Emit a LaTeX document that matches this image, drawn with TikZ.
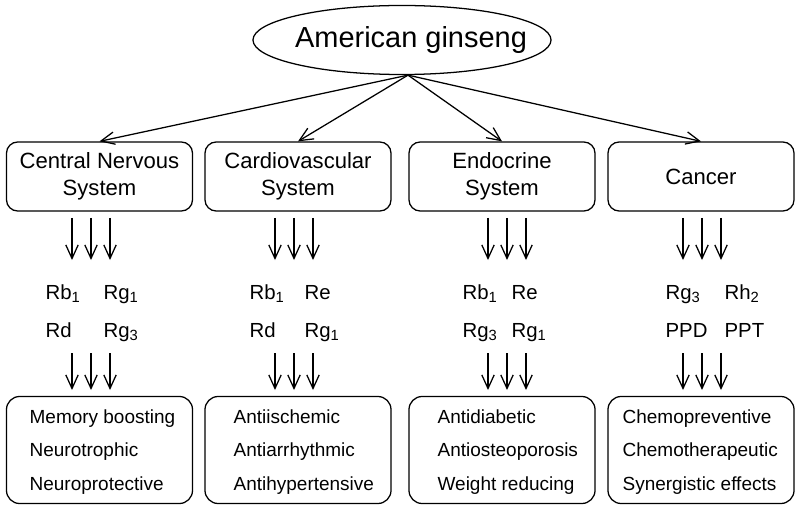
\documentclass[tikz,border=0pt]{standalone}
\usepackage{fontspec}
\setmainfont{Liberation Sans}
\usetikzlibrary{shapes.geometric}
\usetikzlibrary{arrows.meta,arrows}
\newcommand{\gsub}[1]{\raisebox{-0.35ex}{\fontsize{10.5}{10.5}\selectfont #1}}

\begin{document}
\begin{tikzpicture}[x=0.025cm, y=-0.025cm, line width=0.9pt, >={Straight Barb[length=3.4mm, width=3.1mm]},
        sys/.style={draw, rounded corners=0.28cm, minimum width=4.65cm, minimum height=1.725cm, align=center, font=\fontsize{15.7}{19.2}\selectfont},
        eff/.style={draw, rounded corners=0.33cm, minimum width=4.65cm, minimum height=2.675cm},
        efftxt/.style={anchor=west, inner sep=0pt, align=left, font=\fontsize{13.5}{24.1}\selectfont},
        cmp/.style={anchor=base west, inner sep=0pt, font=\fontsize{14.5}{17}\selectfont}]
        \useasboundingbox (0,0) rectangle (800,511);

        \node (G) at (402,40) [draw, ellipse, inner sep=0pt, minimum width=7.45cm, minimum height=1.725cm, font=\fontsize{20.6}{24}\selectfont] {\makebox[0pt]{\hspace{0.45cm}American ginseng}};

        % Systems
        \node (CNS) at (99.5,176.5) [sys] {Central Nervous\\System};
        \node (CVS) at (298,176.5) [sys] {Cardiovascular\\System};
        \node (ENS) at (502,176.5) [sys] {Endocrine\\System};
        \node (CAN) at (701,176.5) [sys] {Cancer};

        % Arrows from G to the systems
        \draw[->] ([xshift=0.15cm]G.south) -- (CNS.north);
        \draw[->] ([xshift=0.15cm]G.south) -- (CVS.north);
        \draw[->] ([xshift=0.15cm]G.south) -- (ENS.north);
        \draw[->] ([xshift=0.15cm]G.south) -- (CAN.north);

        % Triple arrows
        \coordinate (a1) at (91,218);
        \coordinate (a2) at (294,218);
        \coordinate (a3) at (507,218);
        \coordinate (a4) at (702,218);
        \coordinate (b1) at (91,353);
        \coordinate (b2) at (294,353);
        \coordinate (b3) at (507,353);
        \coordinate (b4) at (702,353);
        \foreach \s in {-0.475cm,0cm,0.475cm} {
            \draw[->] ([xshift=\s]a1) -- ++(0,42);
            \draw[->] ([xshift=\s]a2) -- ++(0,42);
            \draw[->] ([xshift=\s]a3) -- ++(0,42);
            \draw[->] ([xshift=\s]a4) -- ++(0,42);
            \draw[->] ([xshift=\s]b1) -- ++(0,37);
            \draw[->] ([xshift=\s]b2) -- ++(0,37);
            \draw[->] ([xshift=\s]b3) -- ++(0,37);
            \draw[->] ([xshift=\s]b4) -- ++(0,37);
        }

        % Ginsenosides
        \node (c11) at (45,299) [cmp] {Rb\gsub{1}};
        \node (c12) at (103,299) [cmp] {Rg\gsub{1}};
        \node (c13) at (45,337) [cmp] {Rd};
        \node (c14) at (103,337) [cmp] {Rg\gsub{3}};
        \node (c21) at (249,299) [cmp] {Rb\gsub{1}};
        \node (c22) at (304,299) [cmp] {Re};
        \node (c23) at (249,337) [cmp] {Rd};
        \node (c24) at (304,337) [cmp] {Rg\gsub{1}};
        \node (c31) at (462,299) [cmp] {Rb\gsub{1}};
        \node (c32) at (511,299) [cmp] {Re};
        \node (c33) at (462,337) [cmp] {Rg\gsub{3}};
        \node (c34) at (511,337) [cmp] {Rg\gsub{1}};
        \node (c41) at (665,299) [cmp] {Rg\gsub{3}};
        \node (c42) at (724,299) [cmp] {Rh\gsub{2}};
        \node (c43) at (665,337) [cmp] {PPD};
        \node (c44) at (724,337) [cmp] {PPT};

        % Effects
        \node (E1) at (99.5,450) [eff] {};
        \node (E2) at (298,450) [eff] {};
        \node (E3) at (502,450) [eff] {};
        \node (E4) at (701,450) [eff] {};
        \node (T1) at (29,452) [efftxt] {Memory boosting\\Neurotrophic\\Neuroprotective};
        \node (T2) at (233,452) [efftxt] {Antiischemic\\Antiarrhythmic\\Antihypertensive};
        \node (T3) at (437,452) [efftxt] {Antidiabetic\\Antiosteoporosis\\Weight reducing};
        \node (T4) at (622,452) [efftxt] {Chemopreventive\\Chemotherapeutic\\Synergistic effects};

    \end{tikzpicture}
\end{document}
